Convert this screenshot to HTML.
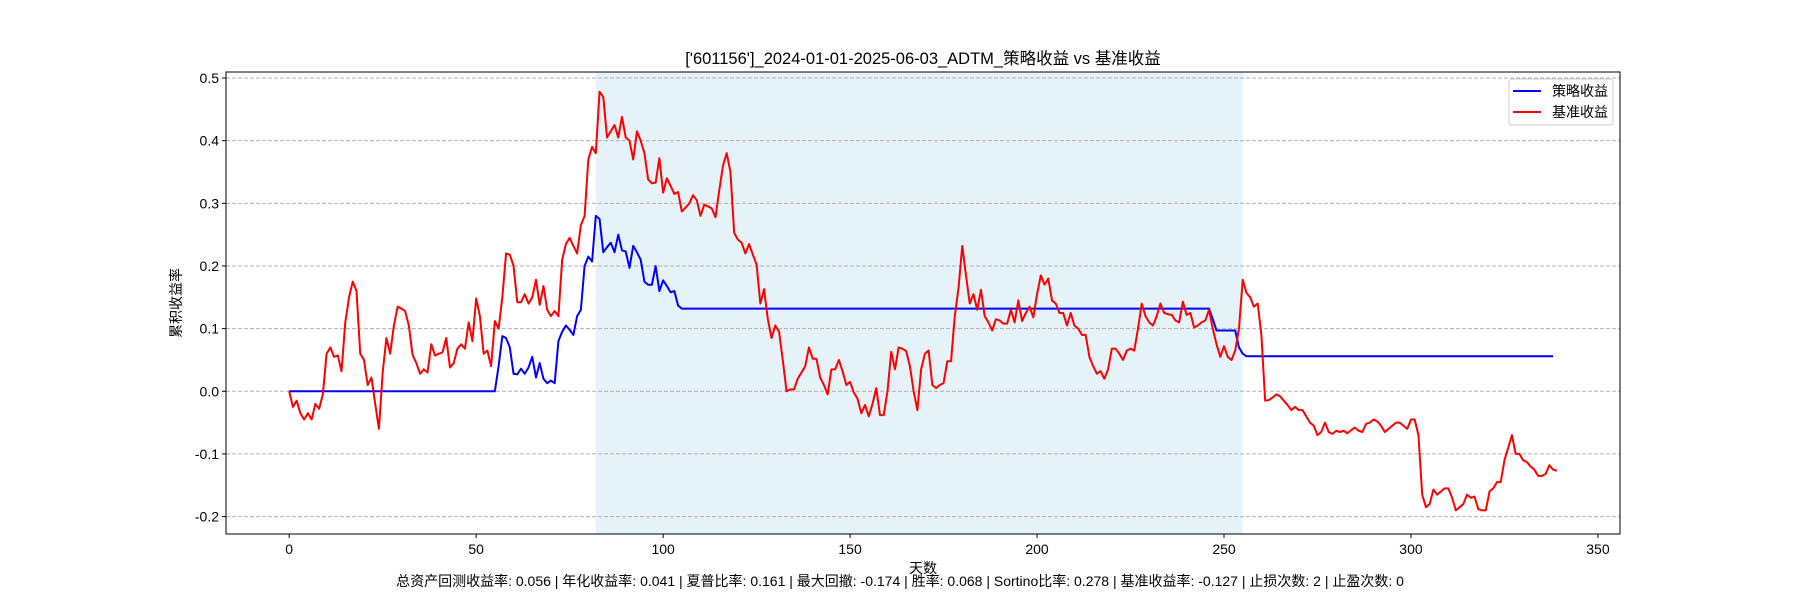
<!DOCTYPE html>
<html><head><meta charset="utf-8"><style>
body{margin:0;background:#fff}
svg{display:block;font-family:"Liberation Sans","Noto Sans CJK SC",sans-serif}
</style></head><body>
<svg id="chart" width="1800" height="600" xmlns="http://www.w3.org/2000/svg">
<rect width="1800" height="600" fill="#fff"/>
<text x="923" y="64" text-anchor="middle" font-size="16.5">['601156']_2024-01-01-2025-06-03_ADTM_策略收益 vs 基准收益</text>
<g id="plot"></g>
<text x="923" y="573" text-anchor="middle" font-size="14">天数</text>
<text transform="translate(181,303) rotate(-90)" text-anchor="middle" font-size="14">累积收益率</text>
<text x="900" y="586" text-anchor="middle" font-size="14">总资产回测收益率: 0.056 | 年化收益率: 0.041 | 夏普比率: 0.161 | 最大回撤: -0.174 | 胜率: 0.068 | Sortino比率: 0.278 | 基准收益率: -0.127 | 止损次数: 2 | 止盈次数: 0</text>
<g>
<rect x="1509" y="79" width="104" height="46" rx="3" fill="#fff" fill-opacity="0.8" stroke="#ccc"/>
<line x1="1513" y1="91" x2="1541" y2="91" stroke="#0000ff" stroke-width="2"/>
<text x="1552" y="96" font-size="14">策略收益</text>
<line x1="1513" y1="112" x2="1541" y2="112" stroke="#ff0000" stroke-width="2"/>
<text x="1552" y="117" font-size="14">基准收益</text>
</g>
</svg>
<script>
const benchmark=[0,-0.025,-0.015,-0.035,-0.045,-0.035,-0.045,-0.02,-0.028,-0.005,0.06,0.07,0.055,0.057,0.032,0.11,0.15,0.175,0.16,0.06,0.05,0.01,0.022,-0.02,-0.06,0.03,0.085,0.06,0.105,0.135,0.132,0.128,0.105,0.058,0.045,0.028,0.035,0.03,0.075,0.057,0.06,0.062,0.085,0.038,0.045,0.068,0.075,0.068,0.11,0.08,0.148,0.12,0.06,0.065,0.04,0.112,0.1,0.15,0.22,0.218,0.2,0.142,0.142,0.155,0.14,0.15,0.178,0.138,0.168,0.13,0.12,0.128,0.12,0.21,0.235,0.245,0.232,0.22,0.265,0.28,0.37,0.39,0.38,0.478,0.47,0.405,0.415,0.425,0.405,0.438,0.405,0.4,0.37,0.415,0.4,0.38,0.338,0.332,0.333,0.372,0.317,0.34,0.328,0.315,0.318,0.287,0.293,0.3,0.313,0.305,0.28,0.298,0.295,0.292,0.278,0.32,0.36,0.38,0.35,0.253,0.242,0.237,0.22,0.235,0.218,0.202,0.14,0.163,0.115,0.085,0.105,0.095,0.05,0.0,0.003,0.003,0.02,0.03,0.04,0.07,0.052,0.052,0.022,0.01,-0.005,0.035,0.035,0.05,0.032,0.01,0.015,-0.002,-0.012,-0.035,-0.022,-0.04,-0.02,0.005,-0.038,-0.038,0.0,0.063,0.035,0.07,0.068,0.064,0.04,0.0,-0.03,0.035,0.06,0.065,0.01,0.005,0.01,0.013,0.048,0.048,0.12,0.165,0.232,0.185,0.14,0.155,0.13,0.162,0.12,0.11,0.097,0.115,0.113,0.108,0.108,0.13,0.11,0.145,0.112,0.125,0.135,0.118,0.155,0.185,0.17,0.18,0.145,0.14,0.125,0.125,0.105,0.125,0.105,0.1,0.09,0.09,0.055,0.04,0.028,0.032,0.02,0.035,0.068,0.068,0.06,0.05,0.065,0.068,0.065,0.1,0.14,0.12,0.11,0.105,0.12,0.14,0.125,0.123,0.122,0.113,0.11,0.143,0.122,0.125,0.102,0.105,0.11,0.113,0.13,0.1,0.075,0.055,0.072,0.055,0.05,0.065,0.1,0.178,0.157,0.15,0.135,0.14,0.09,-0.015,-0.014,-0.01,-0.005,-0.008,-0.015,-0.022,-0.03,-0.025,-0.03,-0.03,-0.04,-0.05,-0.055,-0.07,-0.065,-0.05,-0.065,-0.068,-0.063,-0.065,-0.063,-0.067,-0.062,-0.058,-0.063,-0.065,-0.052,-0.05,-0.045,-0.048,-0.055,-0.065,-0.06,-0.055,-0.05,-0.05,-0.055,-0.06,-0.045,-0.045,-0.07,-0.165,-0.185,-0.18,-0.157,-0.165,-0.16,-0.155,-0.155,-0.17,-0.19,-0.185,-0.18,-0.165,-0.17,-0.168,-0.188,-0.19,-0.19,-0.16,-0.155,-0.145,-0.145,-0.11,-0.09,-0.07,-0.1,-0.1,-0.11,-0.113,-0.12,-0.125,-0.135,-0.135,-0.132,-0.118,-0.125,-0.127];
const strategyHead=[0.04,0.088,0.085,0.07,0.028,0.027,0.036,0.028,0.038,0.055,0.022,0.045,0.02,0.013,0.017,0.013,0.08,0.095,0.105,0.098,0.09,0.12,0.13,0.2,0.215,0.207,0.28,0.275,0.222,0.23,0.237,0.222,0.25,0.225,0.223,0.197,0.232,0.222,0.21,0.175,0.17,0.17,0.2,0.16,0.177,0.168,0.158,0.16,0.137,0.132];
const strategy=[];
for(let i=0;i<=338;i++){
  if(i<=55) strategy.push(0);
  else if(i<=105) strategy.push(strategyHead[i-56]);
  else if(i<=246) strategy.push(0.132);
  else if(i===247) strategy.push(0.115);
  else if(i<=253) strategy.push(0.097);
  else if(i===254) strategy.push(0.07);
  else if(i===255) strategy.push(0.06);
  else strategy.push(0.056);
}
const xTicks=[0,50,100,150,200,250,300,350];
const yTicks=[-0.2,-0.1,0.0,0.1,0.2,0.3,0.4,0.5];
const yTickLabels=["-0.2","-0.1","0.0","0.1","0.2","0.3","0.4","0.5"];
const shadeRange=[82,255];

const L=226,R=1620,T=72,B=534;
const xMin=-16.9,xMax=355.9,yMin=-0.2278,yMax=0.5096;
const xs=v=>L+(v-xMin)/(xMax-xMin)*(R-L);
const ys=v=>B-(v-yMin)/(yMax-yMin)*(B-T);
const NS="http://www.w3.org/2000/svg";
const g=document.getElementById('plot');
function mk(tag,attrs,parent){const e=document.createElementNS(NS,tag);for(const k in attrs)e.setAttribute(k,attrs[k]);(parent||g).appendChild(e);return e;}

const shade=mk('rect',{x:xs(shadeRange[0]),y:T,width:xs(shadeRange[1])-xs(shadeRange[0]),height:B-T,fill:'#add8e6','fill-opacity':0.32});



yTicks.forEach((v,i)=>{
  const y=ys(v);
  const gl=mk('line',{x1:L,x2:R,y1:y,y2:y,stroke:'#b0b0b0','stroke-dasharray':'4,2','stroke-width':1});
  
  
  mk('line',{x1:L-4,x2:L,y1:y,y2:y,stroke:'#000'});
  const t=mk('text',{x:L-7,y:y+5,'text-anchor':'end','font-size':14});
  t.textContent=yTickLabels[i];
  
  
});
xTicks.forEach(v=>{
  const x=xs(v);
  mk('line',{x1:x,x2:x,y1:B,y2:B+4,stroke:'#000'});
  const t=mk('text',{x:x,y:B+20,'text-anchor':'middle','font-size':14});
  t.textContent=String(v);
  
  
});

function path(arr){return arr.map((v,i)=>(i?'L':'M')+xs(i).toFixed(2)+','+ys(v).toFixed(2)).join('');}
const sl=mk('path',{d:path(strategy),fill:'none',stroke:'#0000ff','stroke-width':2,'stroke-linejoin':'round'});


const bl=mk('path',{d:path(benchmark),fill:'none',stroke:'#ff0000','stroke-width':2,'stroke-linejoin':'round'});



const frame=mk('rect',{x:L,y:T,width:R-L,height:B-T,fill:'none',stroke:'#000','stroke-width':1});


</script>
</body></html>
